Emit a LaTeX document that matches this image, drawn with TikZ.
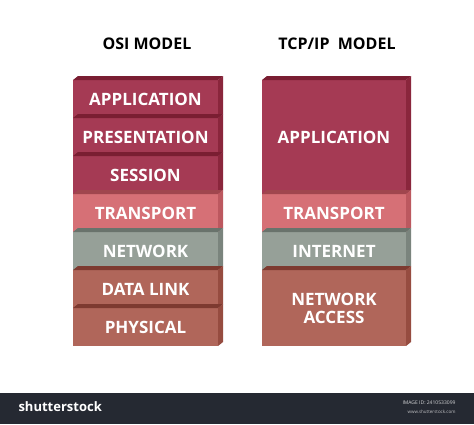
\documentclass[tikz,border=0pt]{standalone}
\usepackage{fontspec}
\setmainfont{Open Sans}
\definecolor{crimF}{RGB}{165,58,84}
\definecolor{crimT}{RGB}{122,30,50}
\definecolor{crimS}{RGB}{138,38,60}
\definecolor{pinkF}{RGB}{214,112,118}
\definecolor{pinkT}{RGB}{160,70,78}
\definecolor{pinkS}{RGB}{188,88,95}
\definecolor{greyF}{RGB}{150,160,152}
\definecolor{greyT}{RGB}{105,115,108}
\definecolor{greyS}{RGB}{122,132,125}
\definecolor{brnF}{RGB}{176,102,90}
\definecolor{brnT}{RGB}{125,58,48}
\definecolor{brnS}{RGB}{150,76,64}
\definecolor{barc}{RGB}{37,41,50}
\tikzset{
  layertext/.style={text=white,font=\fontsize{17}{19}\selectfont\bfseries,align=center},
  titletext/.style={text=black,font=\fontsize{16}{17}\selectfont\bfseries},
}
% #1 x0, #2 x1, #3 top, #4 bottom, #5 colour prefix, #6 node name, #7 text
\newcommand\layerblock[7]{%
  \fill[#5F] (#1,#3) rectangle (#2,#4);
  \fill[#5T] (#1,#3) -- (#2,#3) -- (#2+5,#3-4) -- (#1+5,#3-4) -- cycle;
  \fill[#5S] (#2,#3) -- (#2+5,#3-4) -- (#2+5,#4-4) -- (#2,#4) -- cycle;
  \node[layertext] (#6) at ({(#1+#2)/2},{(#3+#4)/2}) {#7};
}
\begin{document}
\begin{tikzpicture}[x=1pt,y=-1pt]
\useasboundingbox (0,0) rectangle (474,424);
\fill[white] (0,0) rectangle (474,424);
\node[titletext] (osititle) at (147,44) {OSI MODEL};
\node[titletext] (tcptitle) at (337,44) {TCP/IP\ \ MODEL};
% OSI column
\layerblock{73}{218}{80}{118}{crim}{app}{APPLICATION}
\layerblock{73}{218}{118}{156}{crim}{pres}{PRESENTATION}
\layerblock{73}{218}{156}{194}{crim}{sess}{SESSION}
\layerblock{73}{218}{194}{232}{pink}{trans}{TRANSPORT}
\layerblock{73}{218}{232}{270}{grey}{net}{NETWORK}
\layerblock{73}{218}{270}{308}{brn}{dl}{DATA LINK}
\layerblock{73}{218}{308}{346}{brn}{phys}{PHYSICAL}
% TCP/IP column
\layerblock{262}{406}{80}{194}{crim}{tapp}{APPLICATION}
\layerblock{262}{406}{194}{232}{pink}{ttrans}{TRANSPORT}
\layerblock{262}{406}{232}{270}{grey}{tint}{INTERNET}
\layerblock{262}{406}{270}{346}{brn}{tacc}{NETWORK\\[-1pt]ACCESS}
% bottom bar
\fill[barc] (0,393) rectangle (474,424);
\node[text=white,font=\fontsize{13}{14}\selectfont\bfseries,anchor=west] (sslogo) at (15,407) {shutterstock};
\node[text=white!80!barc,font=\fontsize{5}{6}\selectfont,anchor=east] (imgid) at (459,403) {IMAGE ID: 2410533099};
\node[text=white!70!barc,font=\fontsize{4.5}{5}\selectfont,anchor=east] (www) at (459,412) {www.shutterstock.com};
\end{tikzpicture}
\end{document}
